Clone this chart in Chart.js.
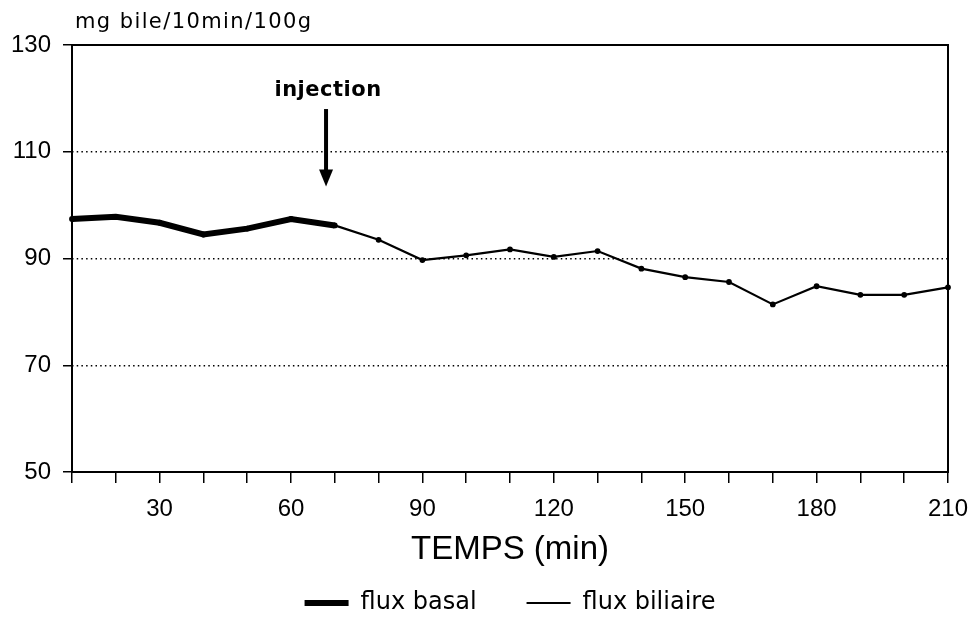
<!DOCTYPE html>
<html><head><meta charset="utf-8">
<script src="https://cdn.jsdelivr.net/npm/chart.js@4"></script>
<style>html,body{margin:0;padding:0;background:#fff}</style>
</head><body>
<canvas id="c" width="972" height="622"></canvas>
<script>
const timesMin = [10,20,30,40,50,60,70,80,90,100,110,120,130,140,150,160,170,180,190,200,210];
const fluxBiliaire = [97.4,97.8,96.7,94.5,95.6,97.4,96.2,93.5,89.7,90.6,91.7,90.3,91.4,88.1,86.5,85.6,81.4,84.8,83.2,83.2,84.6];
const basalTimes = [10,20,30,40,50,60,70];
const fluxBasal = [97.4,97.8,96.7,94.5,95.6,97.4,96.2];
const xLabelTicks = [30,60,90,120,150,180,210];
const yTickValues = [50,70,90,110,130];
const yAxisTitle = 'mg bile/10min/100g';
const xAxisTitle = 'TEMPS (min)';
const injectionText = 'injection';
const injectionTime = 68;
const injectionArrowTop = 118;
const injectionArrowBottom = 103.5;
const injectionLabelValue = 121.4;

const LEGEND_FONT = 24, LEGEND_PAD = 50;

const decor = {
  id: 'decor',
  afterDraw(chart) {
    const {ctx, chartArea: a, scales: {x, y}} = chart;
    ctx.save();
    ctx.strokeStyle = '#000';
    ctx.lineWidth = 2;
    ctx.strokeRect(a.left, a.top, a.right - a.left, a.bottom - a.top);
    // y axis title
    ctx.fillStyle = '#000';
    ctx.font = '21px "DejaVu Sans"';
    try { ctx.letterSpacing = '1.4px'; } catch (e) {}
    ctx.textBaseline = 'alphabetic';
    ctx.textAlign = 'left';
    ctx.fillText(yAxisTitle, a.left + 3, a.top - 17);
    try { ctx.letterSpacing = '0.5px'; } catch (e) {}
    // injection annotation
    const ax = x.getPixelForValue(injectionTime);
    const yT = y.getPixelForValue(injectionArrowTop);
    const yB = y.getPixelForValue(injectionArrowBottom);
    ctx.lineWidth = 4;
    ctx.beginPath(); ctx.moveTo(ax, yT); ctx.lineTo(ax, yB - 14); ctx.stroke();
    ctx.beginPath(); ctx.moveTo(ax - 7, yB - 17); ctx.lineTo(ax + 7, yB - 17); ctx.lineTo(ax, yB); ctx.closePath(); ctx.fill();
    ctx.font = 'bold 21px "DejaVu Sans"';
    ctx.textAlign = 'center';
    ctx.textBaseline = 'middle';
    ctx.fillText(injectionText, ax + 2, y.getPixelForValue(injectionLabelValue));
    ctx.restore();
  }
};

new Chart(document.getElementById('c'), {
  type: 'line',
  data: {
    datasets: [
      { label: 'flux basal', data: basalTimes.map((t, i) => ({x: t, y: fluxBasal[i]})),
        borderColor: '#000', backgroundColor: '#000', borderWidth: 6, pointRadius: 0, tension: 0, clip: false, order: 0 },
      { label: 'flux biliaire', data: timesMin.map((t, i) => ({x: t, y: fluxBiliaire[i]})),
        borderColor: '#000', backgroundColor: '#000', borderWidth: 2.2, pointRadius: 1.8, tension: 0, clip: false, order: 1 }
    ]
  },
  options: {
    responsive: false, animation: false, devicePixelRatio: 1,
    layout: { padding: { left: 0, right: 24, top: 45, bottom: -3 } },
    plugins: {
      tooltip: { enabled: false },
      legend: {
        position: 'bottom', fullSize: false,
        labels: { usePointStyle: true, pointStyle: 'line', pointStyleWidth: 44, color: '#000',
          font: { family: 'DejaVu Sans', size: LEGEND_FONT }, padding: LEGEND_PAD }
      }
    },
    scales: {
      x: {
        type: 'linear', min: 10, max: 210,
        afterFit: s => {
          s.height = 622 + 3 - (LEGEND_FONT + LEGEND_PAD + 10) - 472;
          s.paddingLeft = 0; s.paddingRight = 0;
        },
        ticks: { stepSize: 10, autoSkip: false, maxRotation: 0, color: '#000', padding: 12,
          font: { family: 'Liberation Sans', size: 24 },
          callback: v => xLabelTicks.includes(v) ? String(v) : '' },
        grid: { drawOnChartArea: false, drawTicks: true, tickLength: 11, color: '#000', tickColor: '#000', lineWidth: 1.5, tickWidth: 1.5 },
        border: { display: false },
        title: { display: true, text: xAxisTitle, color: '#000', font: { family: 'Liberation Sans', size: 33 }, padding: { top: 0, bottom: -29 } }
      },
      y: {
        min: 50, max: 130,
        afterFit: s => { s.width = 72; },
        afterBuildTicks: s => { s.ticks = yTickValues.map(v => ({value: v})); },
        ticks: { color: '#000', padding: 12, font: { family: 'Liberation Sans', size: 24 } },
        grid: { drawTicks: true, tickLength: 9, tickColor: '#000', tickWidth: 1.5, lineWidth: 1.5, tickBorderDash: [],
          color: c => (c.tick && (c.tick.value === 50 || c.tick.value === 130)) ? 'rgba(0,0,0,0)' : '#000' },
        border: { display: false, dash: [1.5, 3.2] }
      }
    }
  },
  plugins: [decor]
});
</script>
</body></html>
